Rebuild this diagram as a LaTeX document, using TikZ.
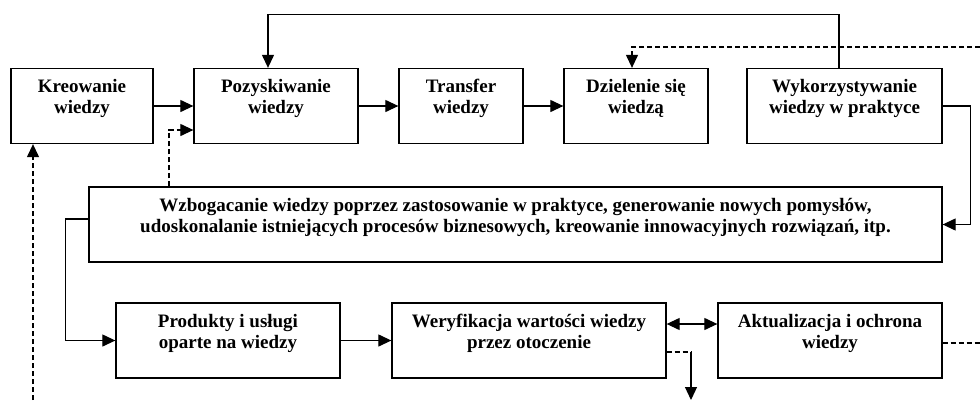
\documentclass[tikz,border=0pt]{standalone}
\usepackage{fontspec}
\setmainfont{Liberation Serif}
\usetikzlibrary{arrows.meta}

\tikzset{
  box/.style={draw, line width=1.3pt, align=center, font=\bfseries\fontsize{19}{21}\selectfont,
    minimum height=75pt, text depth=19pt, inner sep=0pt},
  arr/.style={line width=1.2pt, -{Triangle[length=13pt,width=12pt]}},
  dsh/.style={line width=1.2pt, dash pattern=on 5pt off 3pt}
}

\begin{document}
\begin{tikzpicture}[x=1pt,y=-1pt]
\useasboundingbox (0,0) rectangle (980,400);

% upper row
\node[box, minimum width=142pt] (kre) at (82,106) {Kreowanie\\wiedzy};
\node[box, minimum width=164pt] (poz) at (276,106) {Pozyskiwanie\\wiedzy};
\node[box, minimum width=124pt] (tra) at (461,106) {Transfer\\wiedzy};
\node[box, minimum width=144pt] (dzi) at (636,106) {Dzielenie się\\wiedzą};
\node[box, minimum width=195pt] (wyk) at (844.5,106) {Wykorzystywanie\\wiedzy w praktyce};

% middle
\node[box, minimum width=853pt] (wzb) at (515.5,224.5) {Wzbogacanie wiedzy poprzez zastosowanie w praktyce, generowanie nowych pomysłów,\\udoskonalanie istniejących procesów biznesowych, kreowanie innowacyjnych rozwiązań, itp.};

% lower row
\node[box, minimum width=224pt] (pro) at (228,340.5) {Produkty i usługi\\oparte na wiedzy};
\node[box, minimum width=274pt] (wer) at (529,340.5) {Weryfikacja wartości wiedzy\\przez otoczenie};
\node[box, minimum width=224pt] (akt) at (830,340.5) {Aktualizacja i ochrona\\wiedzy};

% free ends at the border
\coordinate (rtop) at (980,47);
\coordinate (rbot) at (980,343);
\coordinate (lbot) at (33,400);
\coordinate (wcor) at (691,352);
\coordinate (wout) at (691,400);

\draw[arr] (kre.east) -- (poz.west);
\draw[arr] (poz.east) -- (tra.west);
\draw[arr] (tra.east) -- (dzi.west);
\draw[arr] ([xshift=-5.5pt]wyk.north) -- ++(0,-53) -| ([xshift=-8pt]poz.north);
\draw[arr] (wyk.east) -| ([xshift=28pt]wzb.east) -- (wzb.east);
\draw[arr] ([yshift=5.5pt]wzb.west) -| ([xshift=-50pt]pro.west) -- (pro.west);
\draw[arr] (pro.east) -- (wer.west);
\draw[arr, {Triangle[length=13pt,width=12pt]}-{Triangle[length=13pt,width=12pt]}] ([yshift=16.5pt]wer.east) -- ([yshift=16.5pt]akt.west);

% dashed links
\draw[arr, dsh] (rtop) -| ([xshift=-4pt]dzi.north);
\draw[dsh] (akt.east |- rbot) -- (rbot);
\draw[arr, dsh] (lbot) -- (kre.south -| lbot);
\draw[arr, dsh] (wzb.north -| 169,0) |- ([yshift=-24pt]poz.west);
\draw[dsh] (wer.east |- wcor) -- (wcor);
\draw[arr] (wcor) -- (wout);
\end{tikzpicture}
\end{document}
